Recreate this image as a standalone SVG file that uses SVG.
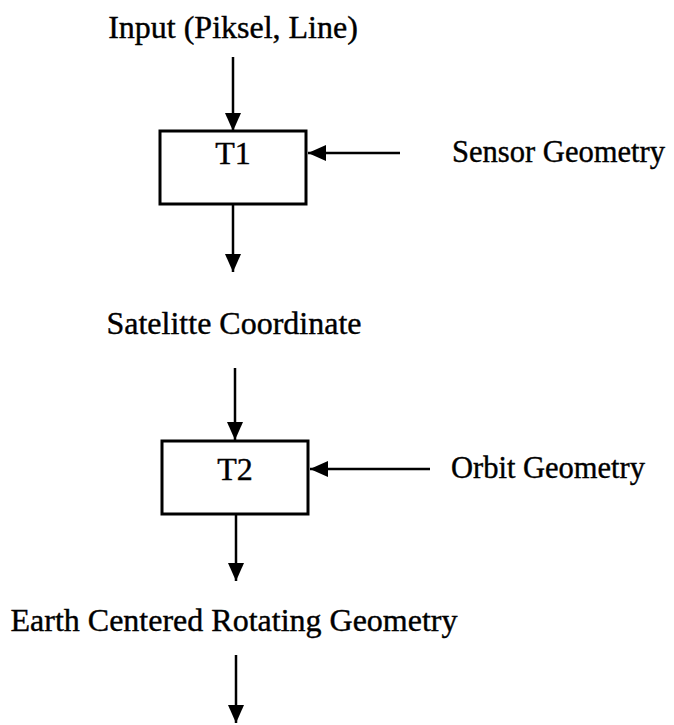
<svg xmlns="http://www.w3.org/2000/svg" width="674" height="725" viewBox="0 0 674 725">
  <style>
    .lbl { font-family: "Liberation Serif", "Times New Roman", serif; font-size: 32px; fill: #000; stroke: #000; stroke-width: 0.4; }
    .box { fill: #fff; stroke: #000; stroke-width: 3; }
    .edge { stroke: #000; stroke-width: 2.5; fill: none; marker-end: url(#head); }
  </style>
  <defs>
    <marker id="head" viewBox="0 0 18 16" refX="18" refY="8" markerWidth="18" markerHeight="16" markerUnits="userSpaceOnUse" orient="auto">
      <path d="M0,0 L18,8 L0,16 Z" fill="#000"/>
    </marker>
  </defs>
  <rect width="674" height="725" fill="#fff"/>

  <g id="connectors">
    <line class="edge" x1="233" y1="57" x2="233" y2="131"/>
    <line class="edge" x1="400" y1="153" x2="308" y2="153"/>
    <line class="edge" x1="233" y1="204" x2="233" y2="272"/>
    <line class="edge" x1="235" y1="368" x2="235" y2="440"/>
    <line class="edge" x1="430" y1="469" x2="310" y2="469"/>
    <line class="edge" x1="236" y1="514" x2="236" y2="581"/>
    <line class="edge" x1="236" y1="655" x2="236" y2="723"/>
  </g>

  <g id="input">
    <text class="lbl" x="233" y="38" text-anchor="middle">Input (Piksel, Line)</text>
  </g>
  <g id="t1">
    <rect class="box" x="160" y="131" width="146" height="73"/>
    <text class="lbl" x="233" y="164" text-anchor="middle">T1</text>
  </g>
  <g id="sensor-geometry">
    <text class="lbl" x="452" y="162" textLength="213" lengthAdjust="spacingAndGlyphs">Sensor Geometry</text>
  </g>
  <g id="satellite-coordinate">
    <text class="lbl" x="234" y="334" text-anchor="middle">Satelitte Coordinate</text>
  </g>
  <g id="t2">
    <rect class="box" x="162" y="441" width="146" height="73"/>
    <text class="lbl" x="235" y="480" text-anchor="middle">T2</text>
  </g>
  <g id="orbit-geometry">
    <text class="lbl" x="451" y="478" textLength="194" lengthAdjust="spacingAndGlyphs">Orbit Geometry</text>
  </g>
  <g id="earth-centered">
    <text class="lbl" x="234" y="631" text-anchor="middle">Earth Centered Rotating Geometry</text>
  </g>
</svg>
